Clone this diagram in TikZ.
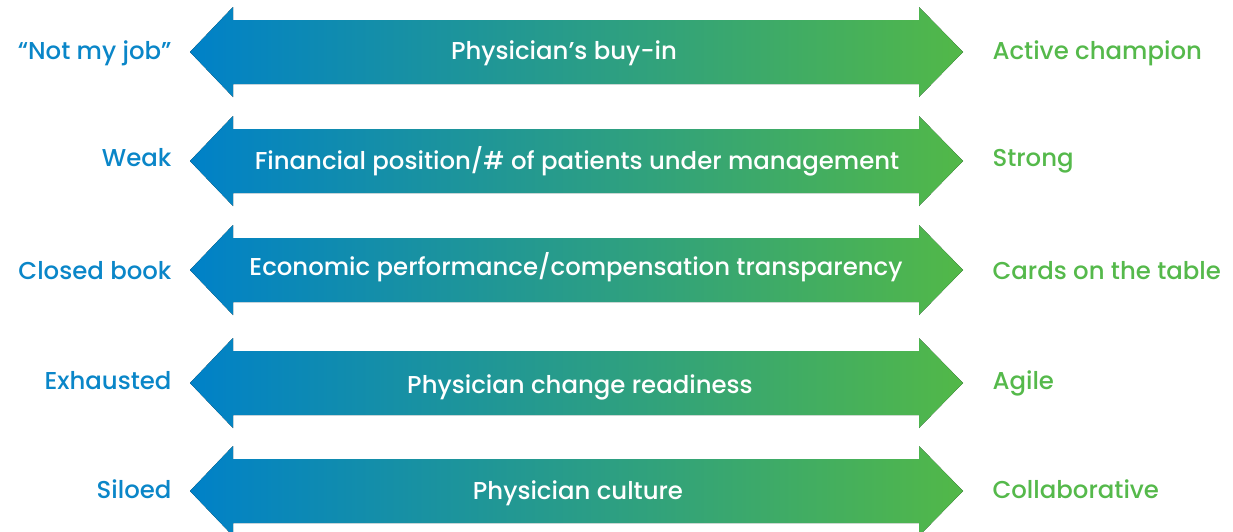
\documentclass[tikz,border=0pt]{standalone}
\usepackage{fontspec}
\setmainfont{Poppins Medium}
\definecolor{lowblue}{HTML}{0081C8}
\definecolor{midteal}{HTML}{0A9A98}
\definecolor{highgreen}{HTML}{52B848}
\definecolor{lowtext}{HTML}{0A86C8}
\definecolor{hightext}{HTML}{55B94B}

\begin{document}
\begin{tikzpicture}[x=1pt, y=-1pt,
    bar/.style={left color=lowblue, middle color=midteal, right color=highgreen},
    title/.style={anchor=base, text=white, font=\fontsize{24.4}{28}\selectfont},
    lowend/.style={anchor=base east, text=lowtext, font=\fontsize{24.4}{28}\selectfont},
    highend/.style={anchor=base west, text=hightext, font=\fontsize{24.4}{28}\selectfont}]
    \useasboundingbox (0,0) rectangle (1233,531);
    % one double arrow per factor, low end on the left
    \foreach \yc/\tx/\tb/\lb/\mid/\lo/\hi [count=\i] in {
        52/564/59/59/{Physician’s buy-in}/{“Not my job”}/{Active champion},
        161/577/169/166/{Financial position/\# of patients under management}/{Weak}/{Strong},
        270/576/275/279/{Economic performance/compensation transparency}/{Closed book}/{Cards on the table},
        383/580/393/389/{Physician change readiness}/{Exhausted}/{Agile},
        491/578/499/498/{Physician culture}/{Siloed}/{Collaborative}}{
        \fill[bar] (190,\yc) -- (233,\yc-45) -- (233,\yc-32) -- (919,\yc-32)
            -- (919,\yc-45) -- (963,\yc) -- (919,\yc+45) -- (919,\yc+32)
            -- (233,\yc+32) -- (233,\yc+45) -- cycle;
        \node[title] (mid-\i) at (\tx,\tb) {\mid};
        \node[lowend] (lo-\i) at (175,\lb) {\lo};
        \node[highend] (hi-\i) at (989,\lb) {\hi};
    }
\end{tikzpicture}
\end{document}
